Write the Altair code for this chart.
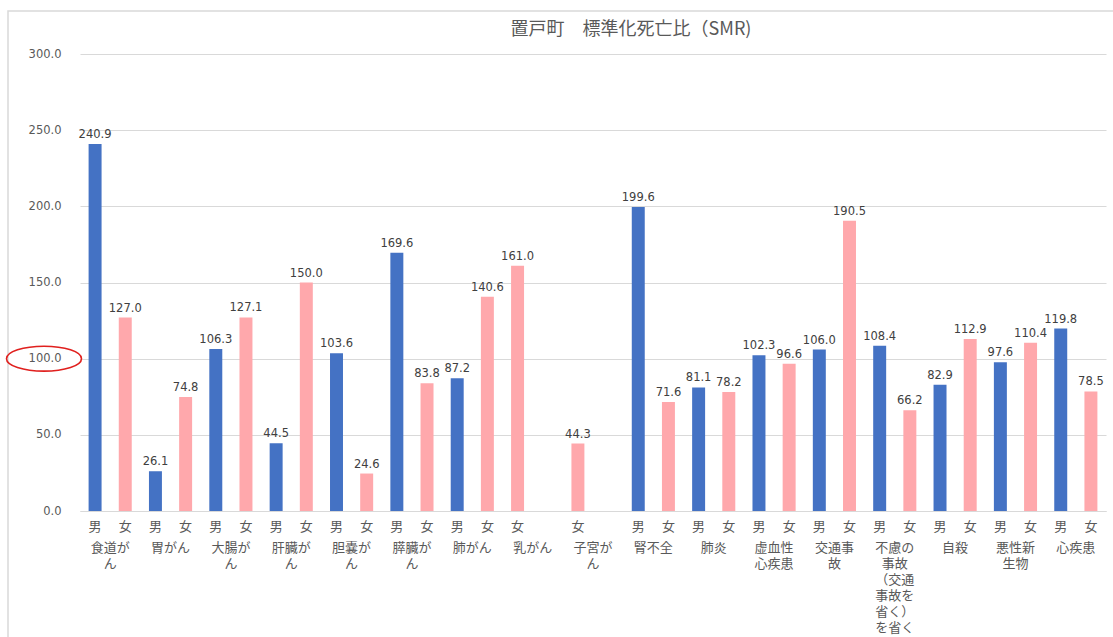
import altair as alt
import pandas as pd

# Standardised mortality ratio (SMR) by cause of death, male / female
title_text = "置戸町　標準化死亡比（SMR)"
groups = ["食道がん", "胃がん", "大腸がん", "肝臓がん", "胆嚢がん", "膵臓がん", "肺がん",
          "乳がん", "子宮がん", "腎不全", "肺炎", "虚血性心疾患", "交通事故",
          "不慮の事故（交通事故を省く）を省く", "自殺", "悪性新生物", "心疾患"]
group_labels = ["食道が\nん", "胃がん", "大腸が\nん", "肝臓が\nん", "胆嚢が\nん", "膵臓が\nん",
                "肺がん", "乳がん", "子宮が\nん", "腎不全", "肺炎", "虚血性\n心疾患", "交通事\n故",
                "不慮の\n事故\n（交通\n事故を\n省く）\nを省く", "自殺", "悪性新\n生物", "心疾患"]
male = [240.9, 26.1, 106.3, 44.5, 103.6, 169.6, 87.2, None, None,
        199.6, 81.1, 102.3, 106.0, 108.4, 82.9, 97.6, 119.8]
female = [127.0, 74.8, 127.1, 150.0, 24.6, 83.8, 140.6, 161.0, 44.3,
          71.6, 78.2, 96.6, 190.5, 66.2, 112.9, 110.4, 78.5]

BLUE = "#4472C4"
PINK = "#FFA8AC"
GREY = "#595959"

# Two category slots per cause; female-only causes leave their second slot empty
slot_order, bar_rows, label_rows = [], [], []
for g, lab, m, f in zip(groups, group_labels, male, female):
    pair = [("男", m), ("女", f)] if m is not None else [("女", f), ("", None)]
    keys = [f"{g}|{s}" for s, _ in pair]
    slot_order += keys
    for k, (s, v) in zip(keys, pair):
        if v is not None:
            bar_rows.append({"slot": k, "sex": s, "value": v})
    label_rows.append({"slot": keys[0], "label": lab})

bars_df = pd.DataFrame(bar_rows)
labels_df = pd.DataFrame(label_rows)

W, H = 1026, 457

x_enc = alt.X(
    "slot:N",
    scale=alt.Scale(domain=slot_order, paddingInner=0.57, paddingOuter=0.285),
    axis=alt.Axis(
        title=None, labelAngle=0, ticks=False, domainColor="#D9D9D9",
        labelExpr="split(datum.value, '|')[1]", labelFont="Noto Sans CJK JP",
        labelFontSize=13, labelColor=GREY, labelPadding=9,
    ),
)
y_enc = alt.Y(
    "value:Q",
    scale=alt.Scale(domain=[0, 300], nice=False),
    axis=alt.Axis(
        title=None, values=[0, 50, 100, 150, 200, 250, 300], format=".1f",
        domain=False, ticks=False, gridColor="#D9D9D9", labelPadding=19,
        labelFont="DejaVu Sans", labelFontSize=11.5, labelColor=GREY,
    ),
)

base = alt.Chart(bars_df)

bars = base.mark_bar().encode(
    x=x_enc,
    y=y_enc,
    color=alt.Color("sex:N", scale=alt.Scale(domain=["男", "女"], range=[BLUE, PINK]), legend=None),
)

values = base.mark_text(
    baseline="bottom", dy=-4, font="DejaVu Sans", fontSize=11.5, color="#404040"
).encode(
    x=alt.X("slot:N"),
    y=alt.Y("value:Q"),
    text=alt.Text("value:Q", format=".1f"),
)

# Cause names centred under each pair of slots
step = W / len(slot_order)
causes = alt.Chart(labels_df).mark_text(
    baseline="top", dx=step / 2, lineBreak="\n", lineHeight=16,
    font="Noto Sans CJK JP", fontSize=13, color=GREY,
).encode(
    x=alt.X("slot:N"),
    y=alt.value(H + 31),
    text="label:N",
)

one = pd.DataFrame({"title": [title_text]})

# Chart heading
heading = alt.Chart(one).mark_text(
    baseline="middle", align="center", font="Noto Sans CJK JP",
    fontSize=18, color=GREY,
).encode(
    x=alt.value(W / 2 + 38),
    y=alt.value(-24),
    text="title:N",
)

# Red ring highlighting the 100.0 reference level
ring = alt.Chart(one).mark_point(
    shape="M-1,0 A1,0.333 0 1,0 1,0 A1,0.333 0 1,0 -1,0 Z",
    size=5625, filled=False, stroke="#E0201E", strokeWidth=1.6, opacity=1,
).encode(
    x=alt.value(-36),
    y=alt.datum(100),
)

# Outer chart-area border
frame = alt.Chart(one).mark_rect(
    fillOpacity=0, stroke="#D9D9D9", strokeWidth=1.5
).encode(
    x=alt.value(-72), x2=alt.value(W + 60),
    y=alt.value(-43), y2=alt.value(H + 300),
)

chart = alt.layer(frame, bars, values, causes, heading, ring).properties(
    width=W,
    height=H,
    autosize=alt.AutoSizeParams(type="none"),
    padding={"left": 80, "top": 54, "right": 7, "bottom": 126},
).configure_view(stroke=None)

chart.save("out.html", embed_options={"renderer": "svg", "actions": False})
